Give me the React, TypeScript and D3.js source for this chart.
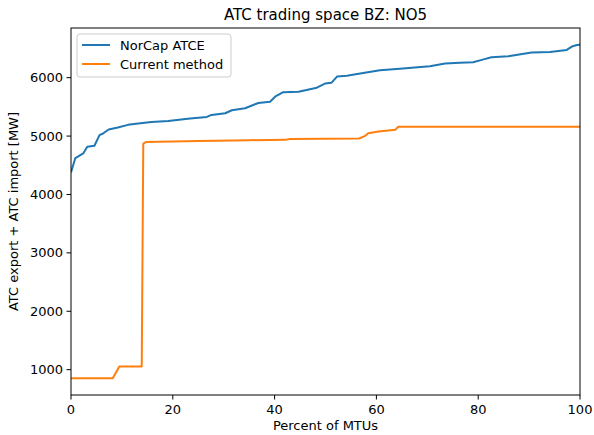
import React from 'react';
import * as d3 from 'd3';

// percent of MTUs (sorted duration curve), values in MW
const norcapPct = [0, 0.85, 2.4, 3.2, 4.6, 5.6, 6.3, 7.4, 9.2, 11.2, 13.2, 15.8, 19.1, 23.4, 26.7, 27.6, 30.3, 31.6, 34.2, 36.8, 39.1, 40.1, 41.6, 44.7, 48.3, 49.9, 51.2, 52.3, 54.2, 57.4, 60.7, 64.6, 70.5, 73.5, 76.4, 79.0, 80.7, 82.6, 85.9, 90.5, 94.1, 97.4, 98.4, 99.4, 100];
const norcapMW = [4379, 4624, 4703, 4817, 4834, 5016, 5044, 5112, 5146, 5192, 5214, 5243, 5260, 5299, 5328, 5362, 5391, 5442, 5476, 5567, 5589, 5674, 5749, 5759, 5828, 5900, 5914, 6022, 6033, 6079, 6129, 6152, 6197, 6243, 6254, 6265, 6305, 6351, 6368, 6431, 6441, 6475, 6533, 6560, 6565];

const currentPct = [0, 8.2, 9.5, 13.9, 14.2, 14.8, 25, 35, 42, 43, 56.6, 57.8, 58.4, 60.4, 63.7, 64.3, 100];
const currentMW = [852, 852, 1056, 1056, 4870, 4900, 4915, 4930, 4935, 4950, 4958, 5004, 5050, 5078, 5107, 5160, 5160];

const xTicks = [0, 20, 40, 60, 80, 100];
const yTicks = [1000, 2000, 3000, 4000, 5000, 6000];

const title = 'ATC trading space BZ: NO5';
const xLabel = 'Percent of MTUs';
const yLabel = 'ATC export + ATC import [MW]';
const seriesNames = ['NorCap ATCE', 'Current method'];
const colors = ['#1f77b4', '#ff7f0e'];

export default function App() {
  const width = 594;
  const height = 435;
  const margin = { top: 28, right: 14, bottom: 40, left: 71 };
  const innerW = width - margin.left - margin.right;
  const innerH = height - margin.top - margin.bottom;

  const allY = [...norcapMW, ...currentMW];
  const yMin = d3.min(allY) as number;
  const yMax = d3.max(allY) as number;
  const pad = (yMax - yMin) * 0.05;

  const x = d3.scaleLinear().domain([0, 100]).range([0, innerW]);
  const y = d3.scaleLinear().domain([yMin - pad, yMax + pad]).range([innerH, 0]);

  const line = d3
    .line<[number, number]>()
    .x((d) => x(d[0]))
    .y((d) => y(d[1]));

  const series = [
    norcapPct.map((p, i) => [p, norcapMW[i]] as [number, number]),
    currentPct.map((p, i) => [p, currentMW[i]] as [number, number]),
  ];

  const font = 'DejaVu Sans, sans-serif';

  return (
    <svg width={width} height={height} style={{ position: 'absolute', left: 0, top: 0 }} fontFamily={font}>
      <rect width={width} height={height} fill="white" />
      <text x={margin.left + innerW / 2} y={20} textAnchor="middle" fontSize={15} fill="#000">
        {title}
      </text>
      <g transform={`translate(${margin.left},${margin.top})`}>
        <defs>
          <clipPath id="plot-clip">
            <rect width={innerW} height={innerH} />
          </clipPath>
        </defs>
        <g clipPath="url(#plot-clip)">
          {series.map((s, i) => (
            <path key={i} d={line(s) || ''} fill="none" stroke={colors[i]} strokeWidth={2} strokeLinejoin="round" />
          ))}
        </g>
        <rect width={innerW} height={innerH} fill="none" stroke="#000" strokeWidth={1} />
        {xTicks.map((t) => (
          <g key={t} transform={`translate(${x(t)},${innerH})`}>
            <line y2={4.5} stroke="#000" />
            <text y={19} textAnchor="middle" fontSize={13} fill="#000">
              {t}
            </text>
          </g>
        ))}
        {yTicks.map((t) => (
          <g key={t} transform={`translate(0,${y(t)})`}>
            <line x2={-4.5} stroke="#000" />
            <text x={-8} dy="0.35em" textAnchor="end" fontSize={13} fill="#000">
              {t}
            </text>
          </g>
        ))}
        <text x={innerW / 2} y={innerH + 35} textAnchor="middle" fontSize={13} fill="#000">
          {xLabel}
        </text>
        <text
          transform={`translate(${-53},${innerH / 2}) rotate(-90)`}
          textAnchor="middle"
          fontSize={13}
          fill="#000"
        >
          {yLabel}
        </text>
        <g transform="translate(6,6)">
          <rect width={154} height={43} rx={3} fill="white" fillOpacity={0.8} stroke="#ccc" />
          {seriesNames.map((n, i) => (
            <g key={n} transform={`translate(0,${11 + i * 19})`}>
              <line x1={5} x2={33} stroke={colors[i]} strokeWidth={2} />
              <text x={43} dy="0.35em" fontSize={13} fill="#000">
                {n}
              </text>
            </g>
          ))}
        </g>
      </g>
    </svg>
  );
}
